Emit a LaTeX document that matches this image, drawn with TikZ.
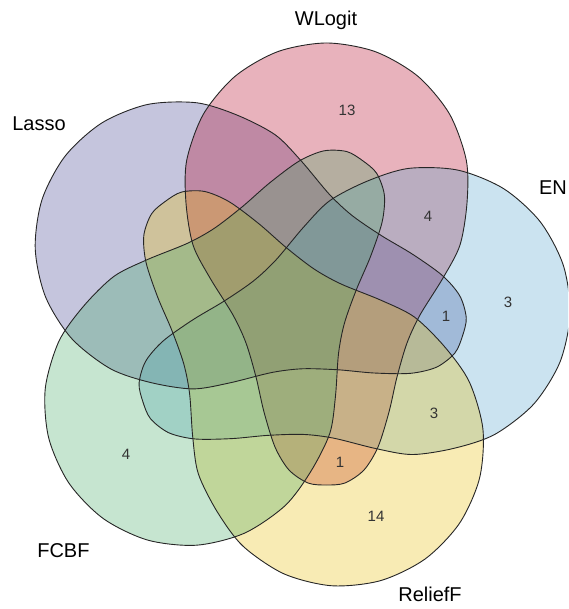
\documentclass[tikz,border=0pt]{standalone}
\usepackage{fontspec}
\setmainfont{Liberation Sans}
\definecolor{cLasso}{RGB}{62,62,142}
\definecolor{cWLogit}{RGB}{178,0,32}
\definecolor{cEN}{RGB}{82,162,205}
\definecolor{cReliefF}{RGB}{232,188,5}
\definecolor{cFCBF}{RGB}{65,168,98}
\tikzset{setname/.style={font=\fontsize{20}{24}\selectfont},setcount/.style={font=\fontsize{15}{18}\selectfont,text=black!80}}
\def\petal{plot[smooth cycle] coordinates {(174.3,156.7) (157.5,203) (125.8,240.8) (83.1,265.4) (34.5,274) (-14.1,265.4) (-56.8,240.8) (-88.5,203) (-105.3,156.7) (-106,114) (-99,72) (-82,39) (-59,2) (-46,-26) (-36,-60) (-28,-95) (-17,-130) (-3,-153) (16,-166) (34.5,-168) (53,-166) (72,-153) (86,-130) (97,-95) (105,-60) (115,-26) (128,2) (151,39) (168,72) (175,114)}}
\begin{document}
\begin{tikzpicture}[x=1pt,y=1pt]
\pgfmathsetmacro{\al}{0.3}
\useasboundingbox (-292,-292) rectangle (276,317);
\clip (-292,-292) rectangle (276,317);
\foreach \a/\c in {72/cLasso,0/cWLogit,-72/cEN,-144/cReliefF,-216/cFCBF}{\fill[\c,fill opacity=\al,rotate=\a] \petal;}
\foreach \a in {72,0,-72,-144,-216}{\draw[black!85,line width=0.9pt,rotate=\a] \petal;}
\node[setname] (wlogit) at (34,297) {WLogit};
\node[setname] (lasso) at (-253,193) {Lasso};
\node[setname,anchor=east,inner sep=0pt] (en) at (275,129.4) {EN};
\node[setname] (relieff) at (138,-277) {ReliefF};
\node[setname] (fcbf) at (-228.6,-234) {FCBF};
\node[setcount] (w) at (55,207) {13};
\node[setcount] (we) at (136,101) {4};
\node[setcount] (e) at (216,15) {3};
\node[setcount] (el) at (154,1) {1};
\node[setcount] (er) at (142,-96) {3};
\node[setcount] (wr) at (48,-145) {1};
\node[setcount] (r) at (84,-199) {14};
\node[setcount] (f) at (-166,-137) {4};
\end{tikzpicture}
\end{document}
